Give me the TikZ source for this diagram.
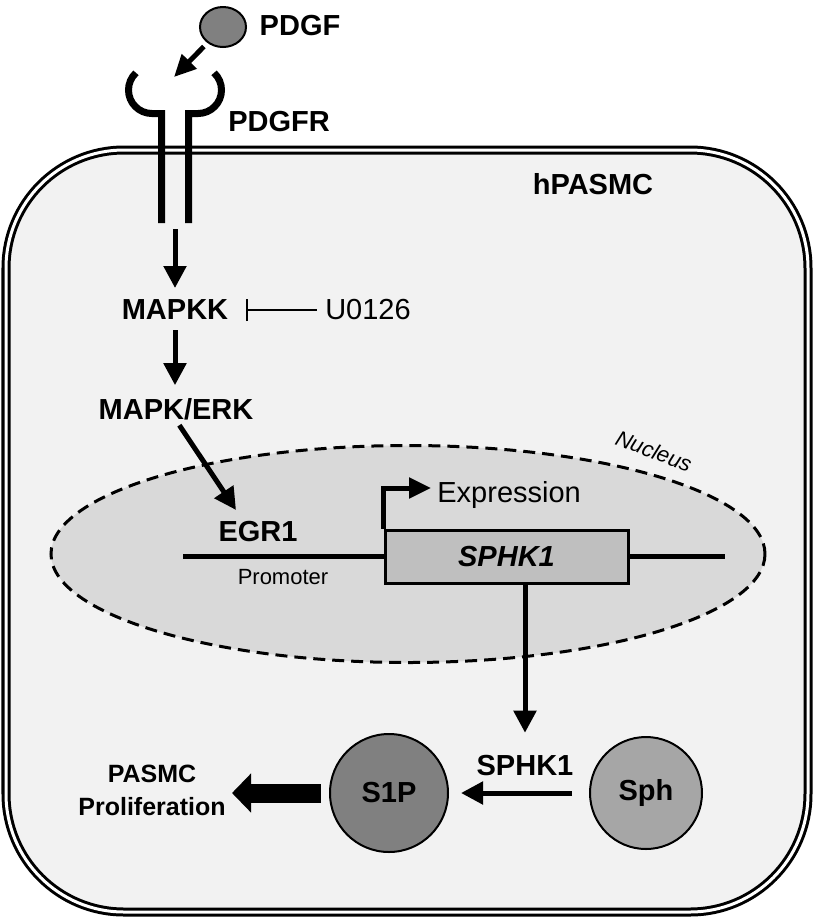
\documentclass[tikz,border=0pt]{standalone}
\usepackage{fontspec}
\setmainfont{Liberation Sans}
\usetikzlibrary{arrows.meta,shapes.geometric,calc}
\definecolor{cellfill}{HTML}{F2F2F2}
\definecolor{nucfill}{HTML}{D9D9D9}
\definecolor{genefill}{HTML}{BFBFBF}
\definecolor{darkball}{HTML}{808080}
\definecolor{lightball}{HTML}{A6A6A6}
\begin{document}
\begin{tikzpicture}[x=0.5pt,y=-0.5pt,
  lbl/.style={font=\fontsize{14.5pt}{16.5pt}\selectfont\bfseries, inner sep=0pt},
  plain/.style={font=\fontsize{14.5pt}{16.5pt}\selectfont, inner sep=0pt},
  small/.style={font=\fontsize{11pt}{13pt}\selectfont, inner sep=0pt},
  arr/.style={line width=2.5pt, -{Triangle[length=11pt,width=11pt]}},
  rec/.style={line width=3.5pt, line cap=butt},
  dna/.style={line width=2.3pt},
  ball/.style={draw, line width=1pt, inner sep=0pt, font=\fontsize{14.5pt}{16.5pt}\selectfont\bfseries}
]
\useasboundingbox (0,0) rectangle (813,918);
% cell
\draw[line width=1.5pt, double=white, double distance=1.5pt, fill=cellfill, rounded corners=59pt]
  (6,150) rectangle (808,912);
% nucleus
\draw[line width=1.5pt, dash pattern=on 6pt off 3.5pt, fill=nucfill]
  (408,554) ellipse[x radius=357, y radius=108.5];
\node[small, font=\fontsize{11pt}{13pt}\selectfont\itshape, rotate=-21] (nuclbl) at (654,451) {Nucleus};
% receptor
\draw[rec] (161.5,223) -- (161.5,113.5) -- (152,113.5) arc[start angle=90, end angle=227, radius=23.5];
\draw[rec] (188.5,223) -- (188.5,113.5) -- (198,113.5) arc[start angle=90, end angle=-47, radius=23.5];
% PDGF
\node[ball, ellipse, fill=darkball, minimum width=23pt, minimum height=20pt] (pdgfball) at (223,27) {};
\node[lbl] (pdgf) at (300,26) {PDGF};
\coordinate (rtip) at (174,77);
\draw[line width=2.5pt, -{Triangle[length=11pt,width=10pt]}, shorten <=2.5pt] (pdgfball) -- (rtip);
\node[lbl] (pdgfr) at (279,122) {PDGFR};
\node[lbl] (hpasmc) at (593,184) {hPASMC};
% cascade
\coordinate (rbot) at (175,229);
\node[lbl] (mapkk) at (175,310) {MAPKK};
\draw[arr, shorten >=5.8pt] (rbot) -- (mapkk);
\node[plain] (u0126) at (368,310) {U0126};
\draw[line width=1pt, -{Bar[width=11pt]}, shorten <=4pt, shorten >=8.5pt] (u0126) -- (mapkk);
\node[lbl] (mapkerk) at (176,409) {MAPK/ERK};
\draw[arr, shorten <=5pt, shorten >=6.3pt] (mapkk) -- (mapkk |- mapkerk.north);
\node[lbl] (egr1) at (258,532) {EGR1};
\coordinate (egrin) at (236,510);
\draw[arr, shorten <=3pt] (mapkerk.south) -- (egrin);
% gene
\node[draw, line width=1.5pt, fill=genefill, minimum width=121.5pt, minimum height=26.5pt, inner sep=0pt,
  font=\fontsize{14.5pt}{16.5pt}\selectfont\bfseries\itshape] (gene) at (506.5,556.5) {SPHK1};
\coordinate (dnaL) at (183,556.5);
\coordinate (dnaR) at (725,556.5);
\draw[dna] (dnaL) -- (gene.west);
\draw[dna] (gene.east) -- (dnaR);
\node[small] (prom) at (283,577) {Promoter};
\node[plain, anchor=base west] (expr) at (437,502) {Expression};
\draw[line width=2.5pt, -{Triangle[length=11pt,width=10pt]}, shorten >=3pt]
  (gene.north west) |- ([yshift=3.25pt]expr.west);
% protein level
\node[lbl] (sphk1p) at (525,766) {SPHK1};
\draw[arr, shorten >=11.3pt] (gene.south -| sphk1p) -- (sphk1p);
\node[ball, circle, fill=darkball, minimum size=59pt] (s1p) at (389,793) {S1P};
\node[ball, circle, fill=lightball, minimum size=56pt] (sph) at (646,793) {Sph};
\draw[arr, shorten <=8.5pt, shorten >=6pt] (sph) -- (s1p);
\node[inner sep=0pt, align=center, font=\fontsize{12.5pt}{16.5pt}\selectfont\bfseries] (prolif) at (152,790) {PASMC\\Proliferation};
\coordinate (bigtip) at (232,793);
\draw[line width=9.5pt, -{Triangle[length=9.5pt,width=19pt]}, shorten <=4.25pt] (s1p) -- (bigtip);
\end{tikzpicture}
\end{document}
